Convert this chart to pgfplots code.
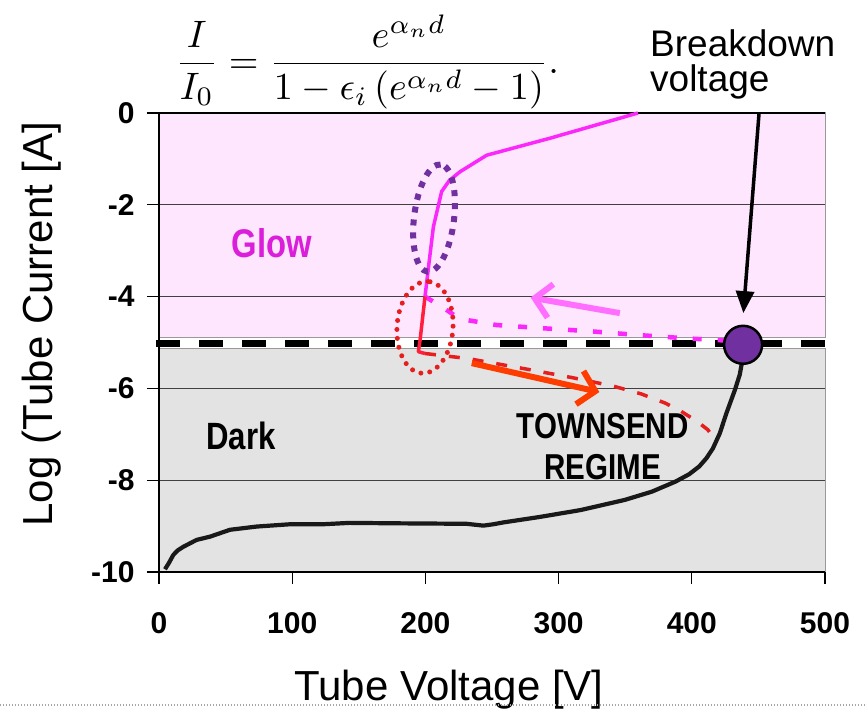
\documentclass[border=0pt]{standalone}
\usepackage{pgfplots}
\pgfplotsset{compat=1.18}
\usepackage{fontspec}
\setmainfont{Liberation Sans}
\usepackage{graphicx}
\usetikzlibrary{arrows.meta}

\definecolor{pinkbg}{RGB}{255,230,255}
\definecolor{graybg}{RGB}{227,227,227}
\definecolor{magline}{RGB}{250,40,250}
\definecolor{pinkarrow}{RGB}{255,110,255}
\definecolor{redline}{RGB}{255,30,60}
\definecolor{reddash}{RGB}{230,30,30}
\definecolor{orangearrow}{RGB}{255,60,0}
\definecolor{purp}{RGB}{112,48,160}
\definecolor{glowtxt}{RGB}{218,30,218}

\begin{document}
\begin{tikzpicture}
\begin{axis}[
  at={(0,0)}, anchor=south west,
  scale only axis, width=666pt, height=459pt,
  xmin=0, xmax=500, ymin=-10, ymax=0,
  axis lines=left, axis line style={-, black, line width=1.2pt},
  axis on top,
  xtick={0,100,...,500}, ytick={-10,-8,...,0},
  tick align=outside, major tick length=12pt,
  tick style={black, line width=1.2pt},
  ticklabel style={font=\fontsize{30}{36}\selectfont\bfseries},
  /pgf/number format/assume math mode=true,
  xticklabel shift=25pt, yticklabel shift=9pt,
  clip=false,
]
% backgrounds
\fill[pinkbg, draw=gray!80, line width=1pt] (axis cs:0,-4.9) rectangle (axis cs:500,0);
\fill[graybg, draw=gray!80, line width=1pt] (axis cs:0,-10) rectangle (axis cs:500,-5.12);
% grid lines
\draw[black!75, line width=1.2pt] (axis cs:0,-2) -- (axis cs:500,-2);
\draw[black!75, line width=1.2pt] (axis cs:0,-4) -- (axis cs:500,-4);
\draw[black!75, line width=1.2pt] (axis cs:0,-6) -- (axis cs:500,-6);
\draw[black!75, line width=1.2pt] (axis cs:0,-8) -- (axis cs:500,-8);
\draw[black, line width=1.2pt] (axis cs:0,0) -- (axis cs:500,0);
% dashed boundary band
\draw[white, line width=7pt] (axis cs:-2.25,-5.022) -- (axis cs:505,-5.022);
\draw[black, line width=7pt, dash pattern=on 24pt off 19pt] (axis cs:-2.25,-5.022) -- (axis cs:505,-5.022);

% black curve
\addplot[black!90, line width=4.2pt, line join=round] coordinates {
(4.5,-9.94) (7.5,-9.8) (10.7,-9.63) (14,-9.53) (18.3,-9.45) (28.3,-9.3)
(38.3,-9.23) (53.3,-9.08) (73.3,-9.01) (98.3,-8.96) (123,-8.96) (143,-8.93)
(181,-8.94) (231,-8.95) (243.5,-8.99) (251,-8.96) (258.5,-8.92) (286,-8.8)
(316.6,-8.65) (349.6,-8.43) (370,-8.25) (387.8,-8.03) (398,-7.87) (405.6,-7.7)
(411,-7.52) (415.8,-7.31) (421,-6.98) (426,-6.54) (432.4,-6.03) (436,-5.7) (438.5,-5.3)
};
% red dashed (Townsend path)
\addplot[reddash, line width=3.5pt, dash pattern=on 11pt off 13pt] coordinates {
(199.7,-5.24) (232,-5.35) (276,-5.58) (311,-5.77) (341,-5.95) (362,-6.12)
(380,-6.32) (392,-6.5) (404,-6.72) (412,-6.9) (417,-7.1)
};
% magenta dashed
\addplot[magline, line width=4.5pt, dash pattern=on 9pt off 16pt] coordinates {
(199.7,-4.0) (212.2,-4.22) (223.5,-4.44) (231,-4.51) (253.5,-4.62) (288.5,-4.69)
(326,-4.76) (361,-4.84) (396,-4.91) (421,-4.95) (436,-4.98)
};
% magenta solid glow curve
\addplot[magline, line width=3.5pt, line join=round] coordinates {
(199.7,-4.0) (202.7,-3.27) (206,-2.48) (212.2,-1.71) (218,-1.47) (226,-1.28)
(246,-0.92) (293.5,-0.55) (359.6,0)
};
% red solid
\addplot[redline, line width=3.5pt, line join=round] coordinates {
(199.7,-4.0) (196,-4.95) (194.7,-5.2) (199.7,-5.24)
};
% arrows
\addplot[black, line width=3.5pt, -{Triangle[length=22pt,width=18pt]}] coordinates {(450.5,0) (438.7,-4.36)};
\addplot[pinkarrow, line width=6pt, -{Straight Barb[length=16pt,width=34pt]}] coordinates {(346,-4.36) (279,-4.02)};
\addplot[orangearrow, line width=6pt, -{Straight Barb[length=16pt,width=34pt]}] coordinates {(234.8,-5.45) (330.6,-6.08)};
% breakdown point
\addplot[only marks, mark=*, mark size=19pt, mark options={fill=purp, draw=black, line width=2.5pt}] coordinates {(438.5,-5.05)};

\coordinate (pe) at (axis cs:206.5,-2.29);
\coordinate (re) at (axis cs:199.7,-4.67);

% text
\node[glowtxt, font=\fontsize{40}{44}\selectfont\bfseries] at (axis cs:84.8,-2.83) {\scalebox{0.82}[1]{Glow}};
\node[black, font=\fontsize{38}{42}\selectfont\bfseries] at (axis cs:61.6,-7.04) {\scalebox{0.82}[1]{Dark}};
\node[black, font=\fontsize{36}{40}\selectfont\bfseries, align=center, inner sep=0] at (axis cs:333,-7.27) {\scalebox{0.82}[1]{TOWNSEND}\\[1pt]\scalebox{0.82}[1]{REGIME}};
\node[anchor=north west, inner sep=0, align=left, font=\fontsize{37}{35}\selectfont] at (axis cs:368.6,1.83) {Breakdown\\voltage};
\node[anchor=west, inner sep=0] at (axis cs:12,1.112)
  {\scalebox{3.82}{$\displaystyle \frac{I}{I_0}=\frac{e^{\alpha_n d}}{1-\epsilon_i\left(e^{\alpha_n d}-1\right)}.$}};
% axis labels
\node[anchor=base, inner sep=0, font=\fontsize{42}{46}\selectfont] at (axis cs:217.7,-12.79) {Tube Voltage [V]};
\node[anchor=base, inner sep=0, rotate=90, font=\fontsize{42}{46}\selectfont] at (axis cs:-79.6,-4.6) {Log (Tube Current [A]};
% bottom dotted rule
\draw[gray!70, line width=1.5pt, dash pattern=on 1.5pt off 1.5pt] (axis cs:-119.4,-12.9) -- (axis cs:530,-12.9);
\end{axis}
% ellipses (annotations)
\begin{scope}[shift={(pe)}, rotate=83]
\draw[purp, line width=6pt, dash pattern=on 6pt off 7pt] (0,0) ellipse [x radius=54pt, y radius=20pt];
\end{scope}
\begin{scope}[shift={(re)}, rotate=86]
\draw[reddash, line width=5pt, dash pattern=on 0pt off 9pt, line cap=round] (0,0) ellipse [x radius=46pt, y radius=28pt];
\end{scope}
\pgfresetboundingbox
\path[use as bounding box] ([shift={(-159pt,-136pt)}]current axis.south west) rectangle ([shift={(40pt,113pt)}]current axis.north east);
\end{tikzpicture}
\end{document}
